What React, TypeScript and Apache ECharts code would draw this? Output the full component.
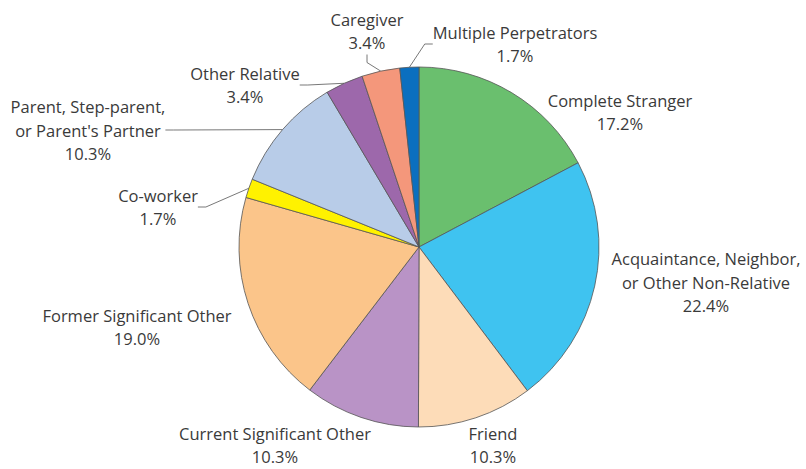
import React, { useEffect, useRef } from "react";
import * as echarts from "echarts";

const categories = [
  "Complete Stranger",
  "Acquaintance, Neighbor,\nor Other Non-Relative",
  "Friend",
  "Current Significant Other",
  "Former Significant Other",
  "Co-worker",
  "Parent, Step-parent,\nor Parent's Partner",
  "Other Relative",
  "Caregiver",
  "Multiple Perpetrators",
];
const values = [17.2, 22.4, 10.3, 10.3, 19.0, 1.7, 10.3, 3.4, 3.4, 1.7];
const colors = [
  "#6abf6e", "#3fc3f0", "#fddcb8", "#b993c6", "#fbc58a",
  "#fff200", "#b8cce8", "#9d68ab", "#f4977b", "#0b6fbf",
];
const hasLine = [false, false, false, false, false, true, true, true, true, true];
// label block centres (layout only)
const labelPos: [number, number][] = [
  [620, 112],
  [706, 282],
  [493, 445],
  [275, 445],
  [137, 327],
  [158, 207],
  [88, 130],
  [245, 85],
  [367, 31],
  [515, 44],
];

export default function App() {
  const ref = useRef<HTMLDivElement>(null);
  useEffect(() => {
    if (!ref.current) return;
    const chart = echarts.init(ref.current, undefined, { renderer: "svg" });
    chart.setOption({
      animation: false,
      backgroundColor: "#ffffff",
      series: [
        {
          type: "pie",
          center: [419, 247],
          radius: 180,
          startAngle: 90,
          clockwise: true,
          avoidLabelOverlap: false,
          itemStyle: { borderColor: "#555555", borderWidth: 0.8 },
          label: {
            show: true,
            position: "outside",
            fontFamily: "Open Sans",
            fontSize: 16.5,
            lineHeight: 23.5,
            color: "#3a3a3a",
            align: "center",
            formatter: (p: any) => `${p.name}\n${Number(p.value).toFixed(1)}%`,
          },
          labelLine: {
            show: true,
            length: 8,
            length2: 8,
            lineStyle: { color: "#555555", width: 0.8 },
          },
          labelLayout: (p: any) => {
            const pos = labelPos[p.dataIndex];
            return { x: pos[0], y: pos[1], align: "center", verticalAlign: "middle" };
          },
          data: categories.map((name, i) => ({
            name,
            value: values[i],
            itemStyle: { color: colors[i] },
            labelLine: { show: hasLine[i] },
          })),
        },
      ],
    });
    return () => chart.dispose();
  }, []);
  return (
    <div
      ref={ref}
      style={{ position: "absolute", left: 0, top: 0, width: 806, height: 469 }}
    />
  );
}
